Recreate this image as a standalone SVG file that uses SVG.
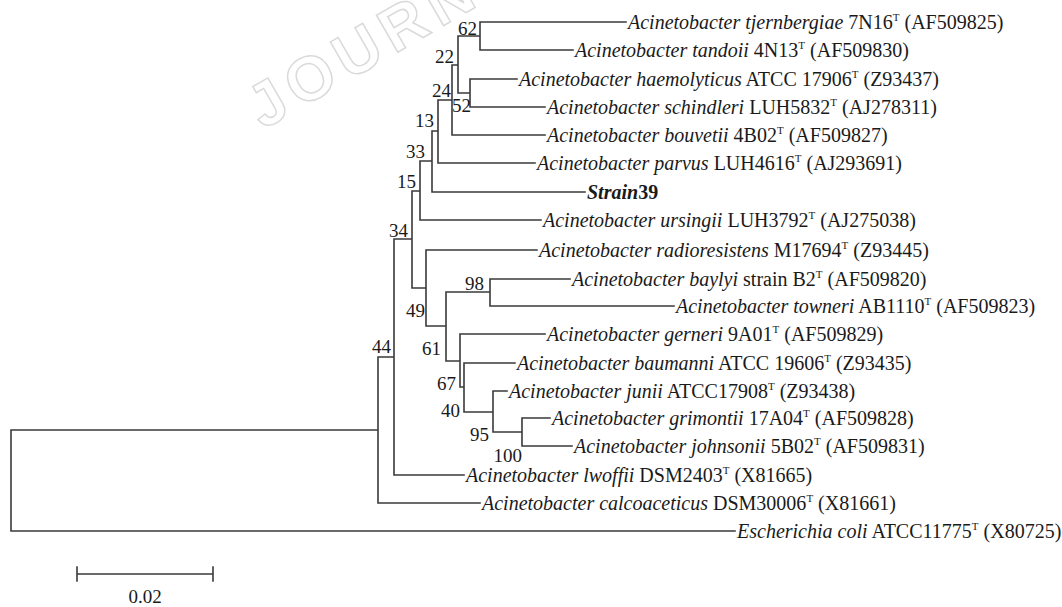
<svg xmlns="http://www.w3.org/2000/svg" width="1062" height="607" viewBox="0 0 1062 607">
<style>
.t{font-family:"Liberation Serif","Times New Roman",serif;font-size:20px;fill:#1a1a1a}
.i{font-style:italic}
.s{font-size:11px}
.b{font-family:"Liberation Serif","Times New Roman",serif;font-size:19px;fill:#1a1a1a;text-anchor:end}
.c{fill:none;stroke:#3a3a3a;stroke-width:1.6;stroke-linecap:square}
.wm{font-family:"Liberation Sans",Arial,sans-serif;font-weight:bold;font-size:62px;letter-spacing:8px;fill:#ffffff;stroke:#dadada;stroke-width:1.5}
</style>
<rect width="1062" height="607" fill="#ffffff"/>
<text class="wm" transform="translate(263 130) rotate(-30)">JOURN</text>
<g id="connectors">
<path class="c" d="M11 430V531M11 430H378M11 531H735
M378 357V503M378 357H394M378 503H480
M394 239V475M394 239H412M394 475H464
M412 191V288M412 191H420M412 288H426
M420 161V220M420 161H432M420 220H541
M432 131V192M432 131H438M432 192H585
M438 100V163M438 100H452M438 163H535
M452 65V135M452 65H458M452 135H545
M458 36V93M458 36H480M458 93H470
M480 22V50M480 22H626M480 50H573
M470 79V107M470 79H517M470 107H545
M426 250V326M426 250H537M426 326H446
M446 292V361M446 292H490M446 361H460
M490 279V306M490 279H570M490 306H674
M460 334V387M460 334H545M460 387H464
M464 363V412M464 363H515M464 412H493
M493 391V432M493 391H507M493 432H522
M522 418V446M522 418H550M522 446H572"/>
</g>
<g id="leaf-tjernbergiae"><text class="t" x="628" y="29"><tspan class="i">Acinetobacter tjernbergiae</tspan> 7N16<tspan class="s" dy="-8">T</tspan><tspan dy="8"> (AF509825)</tspan></text></g>
<g id="leaf-tandoii"><text class="t" x="575" y="57"><tspan class="i">Acinetobacter tandoii</tspan> 4N13<tspan class="s" dy="-8">T</tspan><tspan dy="8"> (AF509830)</tspan></text></g>
<g id="leaf-haemolyticus"><text class="t" x="519" y="86"><tspan class="i">Acinetobacter haemolyticus</tspan> ATCC 17906<tspan class="s" dy="-8">T</tspan><tspan dy="8"> (Z93437)</tspan></text></g>
<g id="leaf-schindleri"><text class="t" x="547" y="114"><tspan class="i">Acinetobacter schindleri</tspan> LUH5832<tspan class="s" dy="-8">T</tspan><tspan dy="8"> (AJ278311)</tspan></text></g>
<g id="leaf-bouvetii"><text class="t" x="547" y="142"><tspan class="i">Acinetobacter bouvetii</tspan> 4B02<tspan class="s" dy="-8">T</tspan><tspan dy="8"> (AF509827)</tspan></text></g>
<g id="leaf-parvus"><text class="t" x="537" y="170"><tspan class="i">Acinetobacter parvus</tspan> LUH4616<tspan class="s" dy="-8">T</tspan><tspan dy="8"> (AJ293691)</tspan></text></g>
<g id="leaf-strain39"><text class="t" x="587" y="199" font-weight="bold"><tspan class="i">Strain</tspan>39</text></g>
<g id="leaf-ursingii"><text class="t" x="543" y="227"><tspan class="i">Acinetobacter ursingii</tspan> LUH3792<tspan class="s" dy="-8">T</tspan><tspan dy="8"> (AJ275038)</tspan></text></g>
<g id="leaf-radioresistens"><text class="t" x="539" y="257"><tspan class="i">Acinetobacter radioresistens</tspan> M17694<tspan class="s" dy="-8">T</tspan><tspan dy="8"> (Z93445)</tspan></text></g>
<g id="leaf-baylyi"><text class="t" x="572" y="286"><tspan class="i">Acinetobacter baylyi</tspan> strain B2<tspan class="s" dy="-8">T</tspan><tspan dy="8"> (AF509820)</tspan></text></g>
<g id="leaf-towneri"><text class="t" x="676" y="313"><tspan class="i">Acinetobacter towneri</tspan> AB1110<tspan class="s" dy="-8">T</tspan><tspan dy="8"> (AF509823)</tspan></text></g>
<g id="leaf-gerneri"><text class="t" x="547" y="341"><tspan class="i">Acinetobacter gerneri</tspan> 9A01<tspan class="s" dy="-8">T</tspan><tspan dy="8"> (AF509829)</tspan></text></g>
<g id="leaf-baumanni"><text class="t" x="517" y="370"><tspan class="i">Acinetobacter baumanni</tspan> ATCC 19606<tspan class="s" dy="-8">T</tspan><tspan dy="8"> (Z93435)</tspan></text></g>
<g id="leaf-junii"><text class="t" x="509" y="398"><tspan class="i">Acinetobacter junii</tspan> ATCC17908<tspan class="s" dy="-8">T</tspan><tspan dy="8"> (Z93438)</tspan></text></g>
<g id="leaf-grimontii"><text class="t" x="552" y="425"><tspan class="i">Acinetobacter grimontii</tspan> 17A04<tspan class="s" dy="-8">T</tspan><tspan dy="8"> (AF509828)</tspan></text></g>
<g id="leaf-johnsonii"><text class="t" x="574" y="453"><tspan class="i">Acinetobacter johnsonii</tspan> 5B02<tspan class="s" dy="-8">T</tspan><tspan dy="8"> (AF509831)</tspan></text></g>
<g id="leaf-lwoffii"><text class="t" x="466" y="482"><tspan class="i">Acinetobacter lwoffii</tspan> DSM2403<tspan class="s" dy="-8">T</tspan><tspan dy="8"> (X81665)</tspan></text></g>
<g id="leaf-calcoaceticus"><text class="t" x="482" y="510"><tspan class="i">Acinetobacter calcoaceticus</tspan> DSM30006<tspan class="s" dy="-8">T</tspan><tspan dy="8"> (X81661)</tspan></text></g>
<g id="leaf-ecoli"><text class="t" x="737" y="538"><tspan class="i">Escherichia coli</tspan> ATCC11775<tspan class="s" dy="-8">T</tspan><tspan dy="8"> (X80725)</tspan></text></g>
<g id="node-62"><text class="b" x="477" y="35">62</text></g>
<g id="node-22"><text class="b" x="454" y="63">22</text></g>
<g id="node-52"><text class="b" x="471" y="112">52</text></g>
<g id="node-24"><text class="b" x="451" y="97">24</text></g>
<g id="node-13"><text class="b" x="434" y="127">13</text></g>
<g id="node-33"><text class="b" x="425" y="158">33</text></g>
<g id="node-15"><text class="b" x="416" y="188">15</text></g>
<g id="node-34"><text class="b" x="408" y="237">34</text></g>
<g id="node-44"><text class="b" x="391" y="353">44</text></g>
<g id="node-98"><text class="b" x="484" y="290">98</text></g>
<g id="node-49"><text class="b" x="425" y="317">49</text></g>
<g id="node-61"><text class="b" x="441" y="355">61</text></g>
<g id="node-67"><text class="b" x="456" y="390">67</text></g>
<g id="node-40"><text class="b" x="460" y="417">40</text></g>
<g id="node-95"><text class="b" x="489" y="441">95</text></g>
<g id="node-100"><text class="b" x="522" y="462">100</text></g>
<g id="scale-bar">
<path class="c" d="M77 574H213M77 567V581M213 567V581"/>
<text class="b" x="145" y="603" style="text-anchor:middle">0.02</text>
</g>
</svg>
